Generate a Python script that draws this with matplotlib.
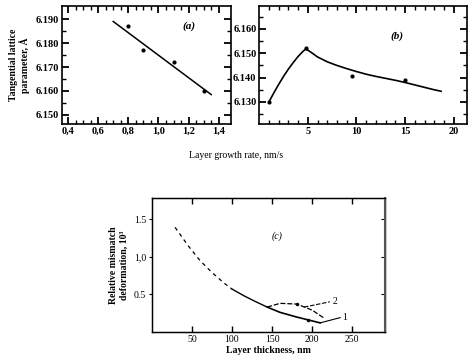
import matplotlib
matplotlib.use("Agg")
import matplotlib.pyplot as plt
import numpy as np

plt.rcParams['font.family'] = ['Liberation Serif', 'DejaVu Serif']
plt.rcParams['font.size'] = 7

# panel (a): lattice parameter vs growth rate
a_pts_x = [0.80, 0.90, 1.10, 1.30]
a_pts_y = [6.187, 6.177, 6.172, 6.160]
a_fit_x = [0.70, 1.35]
a_fit_y = [6.189, 6.1585]

# panel (b)
b_pts_x = [1.0, 4.8, 9.5, 15.0]
b_pts_y = [6.130, 6.152, 6.1405, 6.139]
b_curve_x = [1.0, 1.5, 2.0, 2.5, 3.0, 3.5, 4.0, 4.5, 4.8, 5.3, 6.0, 7.0, 8.0, 9.0,
             10.0, 11.0, 12.0, 13.0, 14.0, 15.0, 16.0, 17.0, 18.0, 18.7]
b_curve_y = [6.130, 6.1337, 6.1372, 6.1405, 6.1435, 6.1462, 6.1487, 6.1508, 6.1518,
             6.1505, 6.1485, 6.1465, 6.1450, 6.1437, 6.1425, 6.1414, 6.1405, 6.1397,
             6.1389, 6.1380, 6.1370, 6.1360, 6.1350, 6.1344]

# panel (c): relative mismatch deformation vs thickness
c_dash_x = [29, 45, 60, 75, 90, 100]
c_dash_y = [1.39, 1.15, 0.95, 0.79, 0.65, 0.57]
c_common_x = [100, 115, 130, 144]
c_common_y = [0.57, 0.48, 0.40, 0.33]
c1_x = [144, 160, 180, 195, 210]
c1_y = [0.33, 0.26, 0.20, 0.16, 0.12]
c2_x = [144, 160, 181, 200, 214]
c2_y = [0.33, 0.38, 0.37, 0.29, 0.19]

fig = plt.figure(figsize=(4.73, 3.6), dpi=100)

bold = dict(fontweight='bold')

# ---- (a)
ax1 = fig.add_axes([0.131, 0.656, 0.357, 0.327])
ax1.plot(a_fit_x, a_fit_y, color='black', lw=1.1)
ax1.plot(a_pts_x, a_pts_y, 'o', color='black', ms=2)
ax1.set_xlim(0.36, 1.48)
ax1.set_ylim(6.1463, 6.1954)
ax1.set_xticks([0.4, 0.6, 0.8, 1.0, 1.2, 1.4])
ax1.set_xticklabels(['0,4', '0,6', '0,8', '1,0', '1,2', '1,4'], fontsize=7.5, **bold)
ax1.set_yticks([6.150, 6.160, 6.170, 6.180, 6.190])
ax1.set_yticklabels(['6.150', '6.160', '6.170', '6.180', '6.190'], fontsize=7.5, **bold)
ax1.set_xticks(np.arange(0.4, 1.45, 0.05), minor=True)
ax1.set_yticks(np.arange(6.150, 6.195, 0.005), minor=True)
ax1.tick_params(which='both', direction='in', top=True, right=True, pad=2)
ax1.tick_params(which='major', length=5, width=1.3)
ax1.tick_params(which='minor', length=3, width=1)
ax1.text(1.16, 6.186, '(a)', fontsize=8, style='italic', **bold)
ax1.set_ylabel('Tangential lattice\nparameter, Å', fontsize=7, labelpad=4, **bold)
for s in ax1.spines.values():
    s.set_linewidth(1.2)

# ---- (b)
ax2 = fig.add_axes([0.548, 0.656, 0.440, 0.327])
ax2.plot(b_curve_x, b_curve_y, color='black', lw=1.2)
ax2.plot(b_pts_x, b_pts_y, 'o', color='black', ms=2)
ax2.set_xlim(0.0, 21.4)
ax2.set_ylim(6.121, 6.1694)
ax2.set_xticks([5, 10, 15, 20])
ax2.set_xticklabels(['5', '10', '15', '20'], fontsize=7.5, **bold)
ax2.set_yticks([6.130, 6.140, 6.150, 6.160])
ax2.set_yticklabels(['6.130', '6.140', '6.150', '6.160'], fontsize=7.5, **bold)
ax2.set_xticks(np.arange(1, 21, 1), minor=True)
ax2.set_yticks(np.arange(6.125, 6.170, 0.005), minor=True)
ax2.tick_params(which='both', direction='in', top=True, right=True, pad=2)
ax2.tick_params(which='major', length=5, width=1.3)
ax2.tick_params(which='minor', length=3, width=1)
ax2.text(13.5, 6.156, '(b)', fontsize=8, style='italic', **bold)
for s in ax2.spines.values():
    s.set_linewidth(1.2)

fig.text(0.50, 0.568, 'Layer growth rate, nm/s', ha='center', va='center', fontsize=7)

# ---- (c)
ax3 = fig.add_axes([0.321, 0.078, 0.493, 0.372])
ax3.plot(c_dash_x, c_dash_y, color='black', lw=0.9, ls=(0, (3, 3)))
ax3.plot(c_common_x, c_common_y, color='black', lw=1.0)
ax3.plot(c1_x, c1_y, color='black', lw=1.2)
ax3.plot(c2_x, c2_y, color='black', lw=0.9, ls=(0, (4, 1.5)))
ax3.plot([181, 195], [0.37, 0.16], 'o', color='black', ms=1.5)
ax3.plot([190, 222], [0.33, 0.40], color='black', lw=0.8, ls=(0, (4, 1.5)))
ax3.plot([210, 235], [0.12, 0.19], color='black', lw=0.8)
ax3.text(225, 0.40, '2', fontsize=7, va='center')
ax3.text(238, 0.19, '1', fontsize=7, va='center')
ax3.text(150, 1.24, '(c)', fontsize=7, style='italic')
ax3.set_xlim(0, 291)
ax3.set_ylim(0, 1.78)
ax3.set_xticks([50, 100, 150, 200, 250])
ax3.set_yticks([0.5, 1.0, 1.5])
ax3.set_yticklabels(['0.5', '1,0', '1.5'])
ax3.tick_params(axis='x', direction='in', top=True, length=4, width=1, pad=2)
ax3.tick_params(axis='y', direction='out', right=False, length=2, width=0.8, pad=2)
ax3r = ax3.twinx()
ax3r.set_ylim(0, 1.78)
ax3r.set_yticks([0.5, 1.0, 1.5])
ax3r.set_yticklabels([])
ax3r.tick_params(direction='in', length=3, width=0.8)
ax3.set_xlabel('Layer thickness, nm', fontsize=7, labelpad=2, **bold)
ax3.set_ylabel('Relative mismatch\ndeformation, 10³', fontsize=7, labelpad=4, **bold)
for s in ax3.spines.values():
    s.set_linewidth(1.0)
ax3r.spines['right'].set_linewidth(1.5)
ax3r.spines['right'].set_color('#555555')

fig.savefig('out.png', dpi=100)
